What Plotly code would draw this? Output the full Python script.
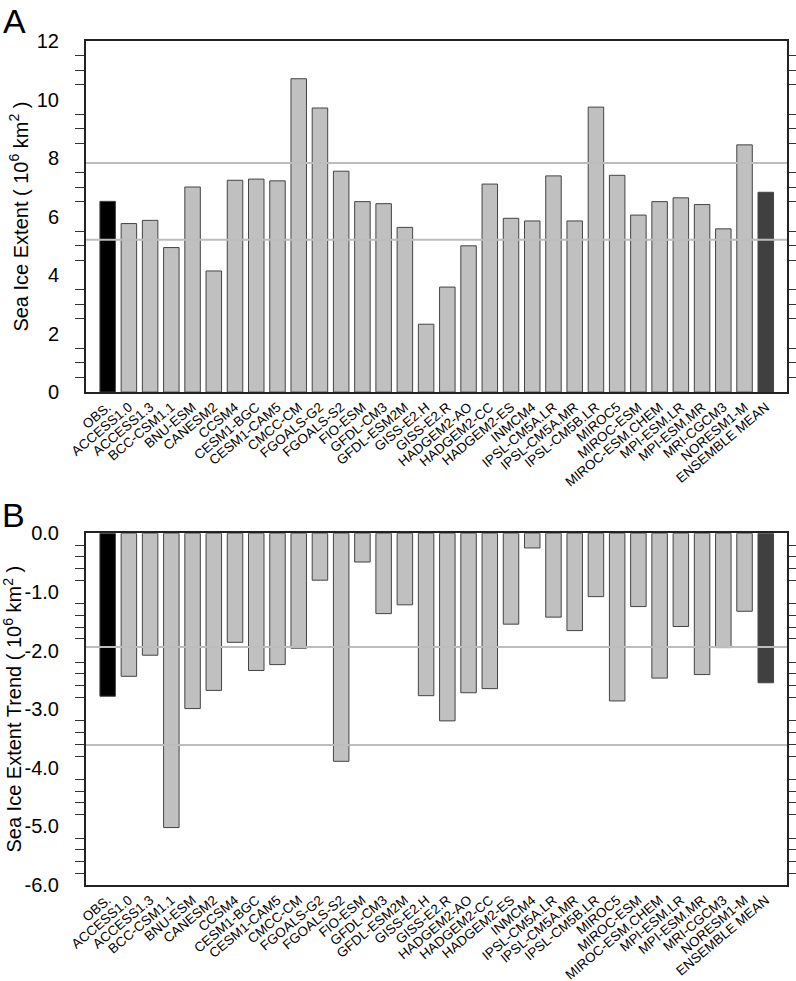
import plotly.graph_objects as go

models = ["OBS.", "ACCESS1.0", "ACCESS1.3", "BCC-CSM1.1", "BNU-ESM", "CANESM2", "CCSM4",
          "CESM1-BGC", "CESM1-CAM5", "CMCC-CM", "FGOALS-G2", "FGOALS-S2", "FIO-ESM",
          "GFDL-CM3", "GFDL-ESM2M", "GISS-E2.H", "GISS-E2.R", "HADGEM2-AO", "HADGEM2-CC",
          "HADGEM2-ES", "INMCM4", "IPSL-CM5A.LR", "IPSL-CM5A.MR", "IPSL-CM5B.LR", "MIROC5",
          "MIROC-ESM", "MIROC-ESM.CHEM", "MPI-ESM.LR", "MPI-ESM.MR", "MRI-CGCM3",
          "NORESM1-M", "ENSEMBLE MEAN"]

extent = [6.52, 5.76, 5.87, 4.94, 7.01, 4.14, 7.24, 7.28, 7.22, 10.71, 9.71, 7.55, 6.51,
          6.44, 5.63, 2.32, 3.59, 5.00, 7.11, 5.94, 5.85, 7.39, 5.85, 9.74, 7.41, 6.05,
          6.51, 6.64, 6.41, 5.58, 8.45, 6.83]

trend = [-2.78, -2.44, -2.08, -5.02, -2.99, -2.68, -1.86, -2.34, -2.24, -1.96, -0.80, -3.89,
         -0.49, -1.37, -1.22, -2.77, -3.20, -2.72, -2.65, -1.55, -0.25, -1.43, -1.66, -1.08,
         -2.86, -1.25, -2.47, -1.59, -2.41, -1.95, -1.33, -2.55]

extent_ref_lines = [7.83, 5.21]
trend_ref_lines = [-1.94, -3.61]

extent_major = [0, 2, 4, 6, 8, 10, 12]
extent_major_text = ["0", "2", "4", "6", "8", "10", "12"]
trend_major = [0, -1, -2, -3, -4, -5, -6]
trend_major_text = ["0.0", "-1.0", "-2.0", "-3.0", "-4.0", "-5.0", "-6.0"]

extent_minor = [v * 0.5 for v in range(0, 25) if v % 4 != 0]
trend_minor = [round(-v * 0.2, 2) for v in range(0, 31) if v % 5 != 0]

xpos = list(range(len(models)))
colors = ["#000000"] + ["#c0c0c0"] * (len(models) - 2) + ["#404040"]
FONT = "Liberation Sans, Arial, Helvetica, sans-serif"

fig = go.Figure()
fig.add_trace(go.Bar(x=xpos, y=extent, width=0.73, marker=dict(color=colors, line=dict(color="#444444", width=1)),
                     xaxis="x", yaxis="y", showlegend=False, hoverinfo="skip"))
fig.add_trace(go.Bar(x=xpos, y=trend, width=0.73, marker=dict(color=colors, line=dict(color="#444444", width=1)),
                     xaxis="x2", yaxis="y2", showlegend=False, hoverinfo="skip"))

xcommon = dict(range=[-1.02, 32], tickvals=xpos, ticktext=models, tickangle=-40, automargin=False,
               tickfont=dict(size=13.5, family=FONT, color="#000"), ticks="",
               showline=True, mirror=True, linecolor="#222", linewidth=2, showgrid=False, zeroline=False)
ycommon = dict(ticks="outside", ticklen=0, tickwidth=0, showline=True, mirror="ticks", linecolor="#222",
               linewidth=2, showgrid=False, automargin=False,
               zeroline=False, tickfont=dict(size=20, family=FONT, color="#000"), ticklabelstandoff=21)


def minor_cfg(vals):
    return dict(tickvals=vals, ticks="outside", ticklen=9, tickwidth=1, tickcolor="#333", showgrid=False)


fig.update_layout(
    width=796, height=981,
    margin=dict(l=86, r=9, t=41, b=96),
    plot_bgcolor="white", paper_bgcolor="white",
    font=dict(family=FONT, color="#000"),
    xaxis=dict(domain=[0, 1], anchor="y", **xcommon),
    xaxis2=dict(domain=[0, 1], anchor="y2", **xcommon),
    yaxis=dict(domain=[0.584, 1], anchor="x", range=[0, 12], tickvals=extent_major, ticktext=extent_major_text,
               minor=minor_cfg(extent_minor),
               title=dict(text="Sea Ice Extent ( 10<sup>6</sup> km<sup>2</sup> )", font=dict(size=20, family=FONT), standoff=3),
               **ycommon),
    yaxis2=dict(domain=[0, 0.4167], anchor="x2", range=[-6, 0], tickvals=trend_major, ticktext=trend_major_text,
                minor=minor_cfg(trend_minor),
                title=dict(text="Sea Ice Extent Trend ( 10<sup>6</sup> km<sup>2</sup> )", font=dict(size=20, family=FONT), standoff=7),
                **ycommon),
)

shapes = []
for v in extent_ref_lines:
    shapes.append(dict(type="line", xref="x domain", yref="y", x0=0, x1=1, y0=v, y1=v,
                       line=dict(color="#bdbdbd", width=2), layer="above"))
for v in trend_ref_lines:
    shapes.append(dict(type="line", xref="x2 domain", yref="y2", x0=0, x1=1, y0=v, y1=v,
                       line=dict(color="#bdbdbd", width=2), layer="above"))
fig.update_layout(shapes=shapes)

fig.add_annotation(text="A", xref="paper", yref="paper", x=-0.121, y=1.0486, xanchor="left", yanchor="top",
                   showarrow=False, font=dict(size=34, family=FONT, color="#000"))
fig.add_annotation(text="B", xref="paper", yref="paper", x=-0.123, y=0.4633, xanchor="left", yanchor="top",
                   showarrow=False, font=dict(size=34, family=FONT, color="#000"))

fig.write_html("out.html", config={"displayModeBar": False},
               post_script="document.body.style.margin='0';document.body.style.overflow='hidden';")
